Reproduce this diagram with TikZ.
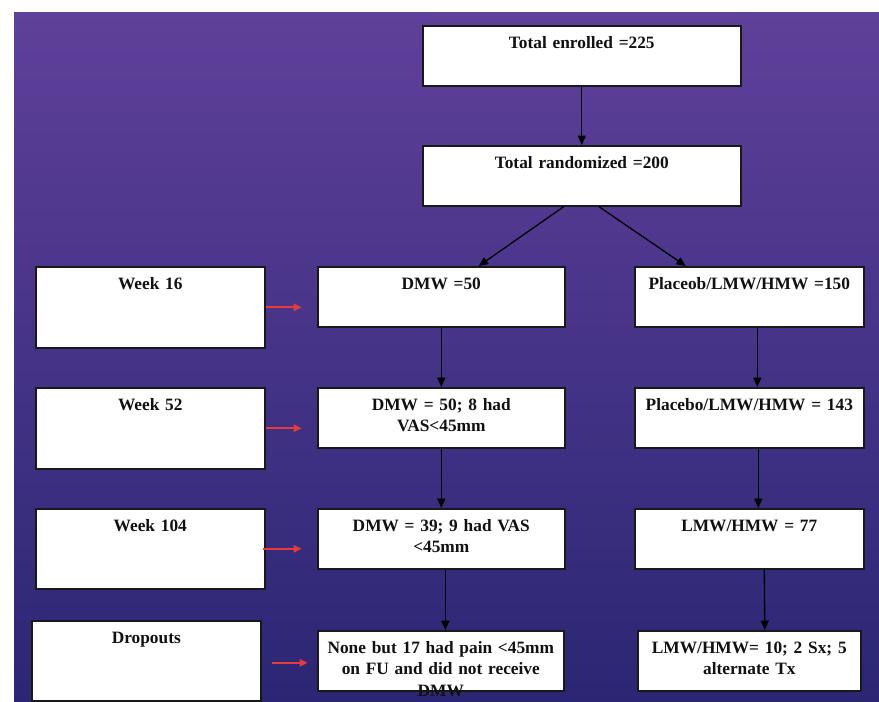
\documentclass[tikz,border=0pt]{standalone}
\usepackage{fontspec}
\setmainfont{Liberation Serif}
\usetikzlibrary{calc,arrows.meta}
\definecolor{bgtop}{HTML}{5F409A}
\definecolor{bgmid}{HTML}{4C3194}
\definecolor{bgbot}{HTML}{2B2674}
\definecolor{redarr}{HTML}{E43C3C}
\definecolor{txt}{HTML}{111111}
\tikzset{
  fbox/.style={draw=black!90, line width=1.2pt, fill=white, inner sep=0pt, anchor=north west, rectangle},
  ftext/.style={text=txt, font=\bfseries\fontsize{13}{16}\selectfont, align=center, text width=200pt, inner sep=0pt, anchor=base},
  arr/.style={draw=black, line width=1pt, -{Triangle[length=7pt,width=6pt]}},
  redarrow/.style={draw=redarr, line width=1.4pt, -{Triangle[length=6pt,width=5.5pt]}}
}
\newcommand\flowbox[6]{%
  \node[fbox, minimum width=#4*0.75pt, minimum height=#5*0.75pt] (#1) at (#2,#3) {};
  \node[ftext] (#1-t) at ($(#1.north)+(0,23.5)$) {#6};
}
\begin{document}
\begin{tikzpicture}[x=0.75pt,y=-0.75pt]
\useasboundingbox (0,0) rectangle (879,702);
\fill[white] (0,0) rectangle (879,702);
\shade[top color=bgtop, middle color=bgmid, bottom color=bgbot] (14,13) rectangle (879,702);

\flowbox{enr}{422}{25}{318}{60}{Total enrolled =225}
\flowbox{rnd}{422}{145}{318}{60}{Total randomized =200}

\flowbox{w16}{35}{266}{229}{81}{Week 16}
\flowbox{d16}{317}{266}{247}{60}{DMW =50}
\flowbox{p16}{634}{266}{229}{60}{Placeob/LMW/HMW =150}

\flowbox{w52}{35}{387}{229}{81}{Week 52}
\flowbox{d52}{317}{387}{247}{60}{DMW = 50; 8 had\\VAS<45mm}
\flowbox{p52}{634}{387}{229}{60}{Placebo/LMW/HMW = 143}

\flowbox{w104}{35}{508}{229}{80}{Week 104}
\flowbox{d104}{317}{508}{247}{60}{DMW = 39; 9 had VAS\\<45mm}
\flowbox{p104}{634}{508}{229}{60}{LMW/HMW = 77}

\flowbox{drop}{31}{620}{229}{80}{Dropouts}
\flowbox{none}{317}{630}{246}{60}{None but 17 had pain <45mm\\on FU and did not receive\\DMW}
\flowbox{pend}{637}{630}{223}{60}{LMW/HMW= 10; 2 Sx; 5\\alternate Tx}

% black connectors
\draw[arr] (enr.south) -- (rnd.north);
\draw[arr] ($(rnd.south)+(-18,0)$) -- ($(d16.north)+(37.5,0)$);
\draw[arr] ($(rnd.south)+(17,0)$) -- ($(p16.north)+(-63.5,0)$);
\draw[arr] (d16.south) -- (d52.north);
\draw[arr] (d52.south) -- (d104.north);
\draw[arr] ($(d104.south)+(4,0)$) -- ($(none.north)+(4.5,0)$);
\draw[arr] ($(p16.south)+(8,0)$) -- ($(p52.north)+(8,0)$);
\draw[arr] ($(p52.south)+(9,0)$) -- ($(p104.north)+(9,0)$);
\draw[arr] ($(p104.south)+(15,0)$) -- ($(pend.north)+(15.5,0)$);

% red side arrows
\coordinate (r16) at ($(w16.east)+(36,0)$);
\coordinate (r52) at ($(w52.east)+(36,0)$);
\coordinate (r104) at ($(w104.east)+(36,0)$);
\coordinate (rdrop) at ($(drop.east)+(46,2)$);
\coordinate (rdrops) at ($(drop.east)+(10,2)$);
\draw[redarrow] (w16.east) -- (r16);
\draw[redarrow] (w52.east) -- (r52);
\draw[redarrow] ($(w104.east)+(-3,0)$) -- (r104);
\draw[redarrow] (rdrops) -- (rdrop);
\end{tikzpicture}
\end{document}
